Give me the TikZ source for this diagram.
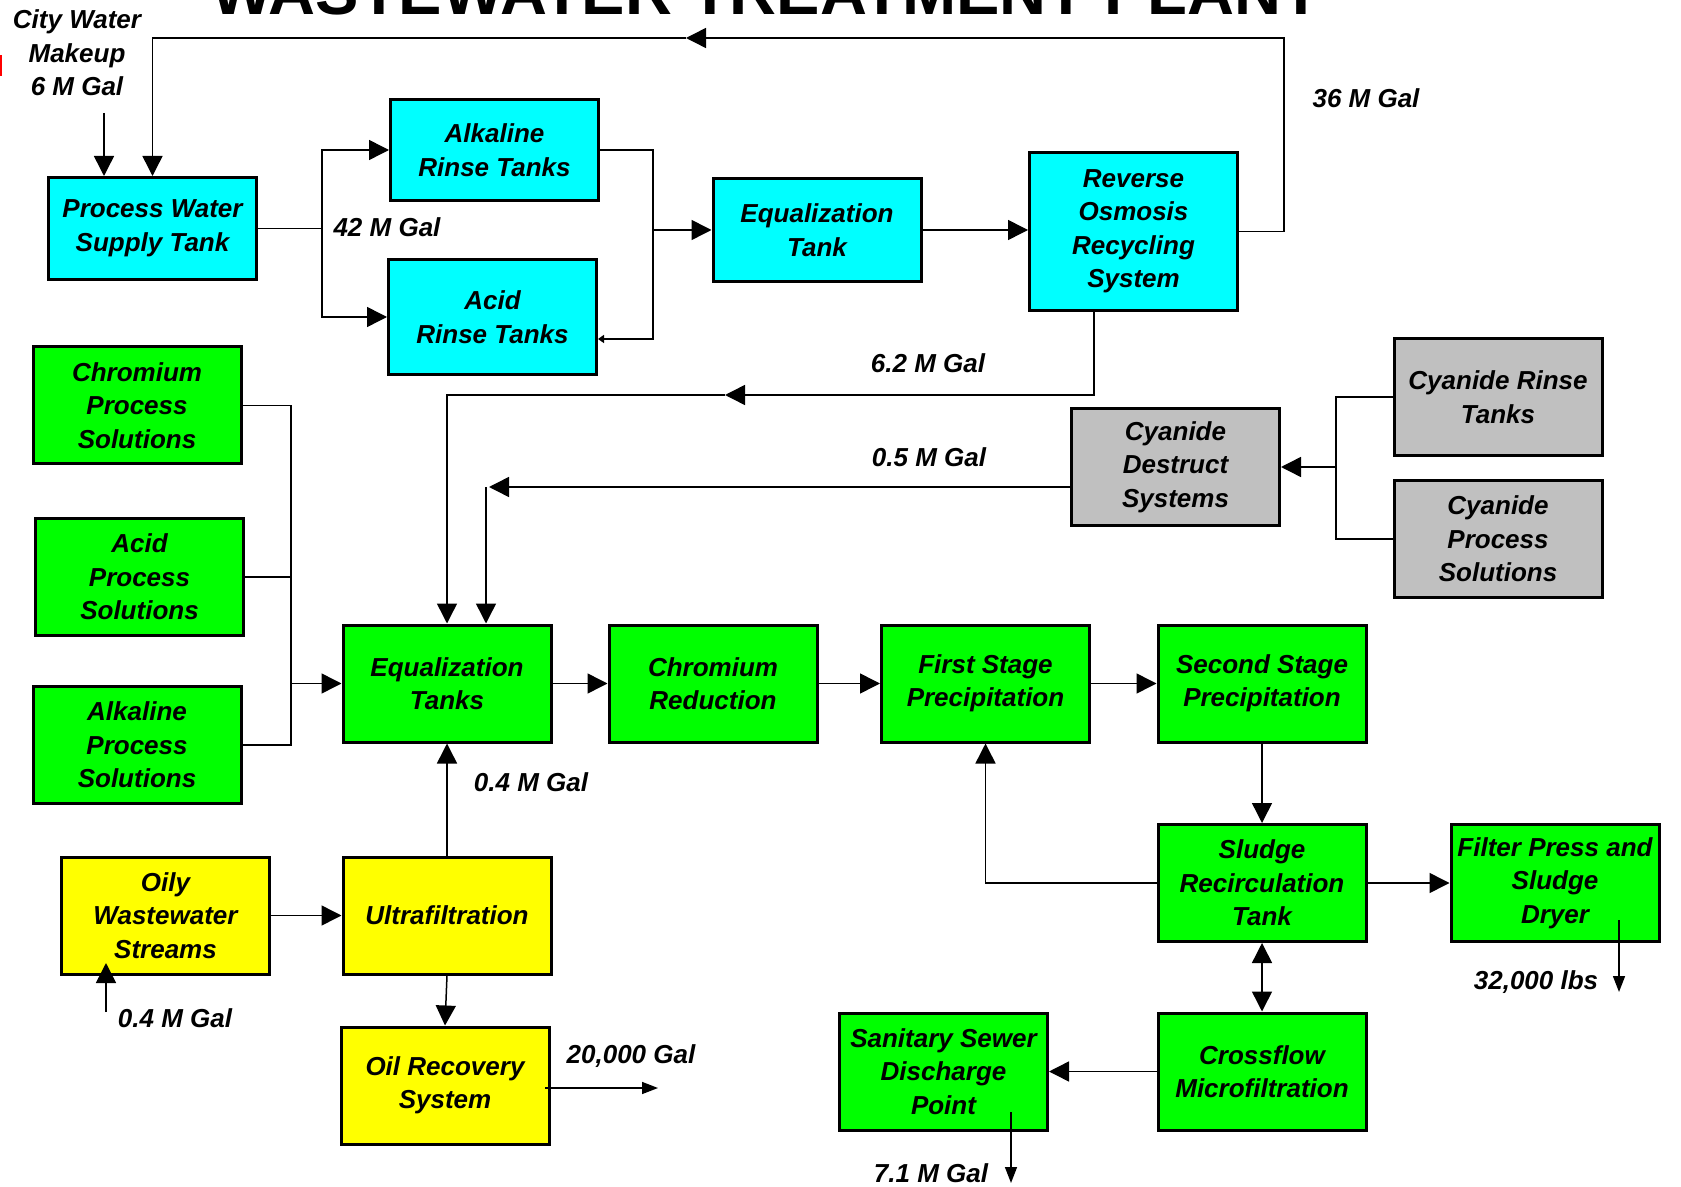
\documentclass[tikz,border=0pt]{standalone}
\usepackage{fontspec}
\setmainfont{Liberation Sans}
\usetikzlibrary{arrows.meta, positioning}
\definecolor{rinsecyan}{RGB}{0,255,255}
\definecolor{treatgreen}{RGB}{0,255,0}
\definecolor{oilyellow}{RGB}{255,255,0}
\definecolor{cyanidegray}{RGB}{192,192,192}
\newcommand{\unitfont}{\fontsize{13}{16.75}\selectfont\bfseries\itshape}
\newcommand{\titlefont}{\fontsize{32.5}{36}\selectfont\bfseries}
\tikzset{
  tankbox/.style   = {rectangle, draw=black, line width=1.5pt,
                      minimum width=104pt, minimum height=58.5pt,
                      inner sep=1pt, align=center, font=\unitfont},
  rinse/.style     = {tankbox, fill=rinsecyan},
  treat/.style     = {tankbox, fill=treatgreen},
  oil/.style       = {tankbox, fill=oilyellow},
  cyanide/.style   = {tankbox, fill=cyanidegray},
  pipe/.style      = {line width=0.75pt},
  arrow/.style     = {pipe, -{Triangle[length=10pt, width=10pt]}},
  twoway/.style    = {pipe, {Triangle[length=10pt, width=10pt]}-{Triangle[length=10pt, width=10pt]}},
  outlet/.style    = {pipe, -{Triangle[length=8pt, width=6pt]}},
  tinyarrow/.style = {pipe, -{Triangle[length=3pt, width=4pt]}},
  flowlabel/.style = {font=\unitfont, inner sep=0pt, align=center},
}

\begin{document}
\begin{tikzpicture}[x=0.5pt, y=-0.5pt]

    \useasboundingbox (0,0) rectangle (1681,1187);
    \fill[white] (0,0) rectangle (1681,1187);
    \fill[red] (0,55) rectangle (2,76);

    \node[font=\titlefont, anchor=base] (title) at (766,15)
      {WASTEWATER TREATMENT PLANT};

    % reuse water loop
    \node[rinse, minimum height=51pt] (supply) at (152.5,228.5)
      {Process Water\\Supply Tank};
    \node[rinse, minimum height=50.5pt] (alkrinse) at (494.5,150)
      {Alkaline\\Rinse Tanks};
    \node[rinse, minimum height=57.5pt] (acidrinse) at (492.5,317)
      {Acid\\Rinse Tanks};
    \node[rinse, minimum height=51.5pt] (eqtank) at (817,230)
      {Equalization\\Tank};
    \node[rinse, minimum height=79pt] (ro) at (1133.5,231.5)
      {Reverse\\Osmosis\\Recycling\\System};

    % cyanide line
    \node[cyanide] (cds) at (1175.5,467)
      {Cyanide\\Destruct\\Systems};
    \node[cyanide] (cnrinse) at (1498,397)
      {Cyanide Rinse\\Tanks};
    \node[cyanide] (cnproc) at (1498,539)
      {Cyanide\\Process\\Solutions};

    % metal finishing solutions and treatment
    \node[treat] (crproc) at (137,405.5)
      {Chromium\\Process\\Solutions};
    \node[treat] (acproc) at (139.5,577)
      {Acid\\Process\\Solutions};
    \node[treat] (alproc) at (137,745)
      {Alkaline\\Process\\Solutions};
    \node[treat] (eqtanks) at (447,683.5)
      {Equalization\\Tanks};
    \node[treat] (crred) at (713,683.5)
      {Chromium\\Reduction};
    \node[treat] (first) at (985.5,683.5)
      {First Stage\\Precipitation};
    \node[treat] (second) at (1262,683.5)
      {Second Stage\\Precipitation};
    \node[treat] (sludge) at (1262,883)
      {Sludge\\Recirculation\\Tank};
    \node[treat] (filter) at (1555,883)
      {Filter Press and\\Sludge\\Dryer};
    \node[treat] (crossflow) at (1262,1071.5)
      {Crossflow\\Microfiltration};
    \node[treat] (sanitary) at (943.5,1071.5)
      {Sanitary Sewer\\Discharge\\Point};

    % oily streams
    \node[oil] (oily) at (165.5,915.5)
      {Oily\\Wastewater\\Streams};
    \node[oil] (ultra) at (447,915.5)
      {Ultrafiltration};
    \node[oil] (oilrec) at (445,1085.5)
      {Oil Recovery\\System};

    % flow labels
    \node[flowlabel] (citywater) at (77,53)  {City Water\\Makeup\\6 M Gal};
    \node[flowlabel] (lbl36)   at (1366,98)  {36 M Gal};
    \node[flowlabel] (lbl42)   at (387,227)  {42 M Gal};
    \node[flowlabel] (lbl62)   at (928,363)  {6.2 M Gal};
    \node[flowlabel] (lbl05)   at (929,457)  {0.5 M Gal};
    \node[flowlabel] (lbl04up) at (531,782)  {0.4 M Gal};
    \node[flowlabel] (lbl04in) at (175,1018) {0.4 M Gal};
    \node[flowlabel] (lbl20k)  at (631,1056) {20,000 Gal};
    \node[flowlabel] (lbl32k)  at (1536,982) {32,000 lbs};
    \node[flowlabel] (lbl71)   at (931,1173) {7.1 M Gal};

    \coordinate (cwin)     at (104,113);
    \coordinate (rtop)     at (1284,38);
    \coordinate (rmid)     at (686,38);
    \coordinate (split)    at (322,228.5);
    \coordinate (merge)    at (653,230);
    \coordinate (acidout)  at (653,339);
    \coordinate (rodrop)   at (1094,395);
    \coordinate (romid)    at (725,395);
    \coordinate (cncorner) at (486,487);
    \coordinate (cnjoin)   at (1336,467);
    \coordinate (spjoin)   at (291,683.5);
    \coordinate (oilyin)   at (106,1012);
    \coordinate (oilytip)  at (106,963);
    \coordinate (oilsrc)   at (545,1088);
    \coordinate (oilout)   at (658,1088);
    \coordinate (cakesrc)  at (1619,920);
    \coordinate (cakeout)  at (1619,992);
    \coordinate (sewersrc) at (1011,1112);
    \coordinate (sewerout) at (1011,1183);

    \draw[arrow] (cwin) -- (cwin |- supply.north);
    \draw[arrow] (ro.east) -| (rtop) -- (rmid);
    \draw[arrow] (rmid) -| (supply.north);
    \draw[pipe]  (supply.east) -- (split);
    \draw[arrow] (split) |- (alkrinse.west);
    \draw[arrow] (split) |- (acidrinse.west);
    \draw[pipe]  (alkrinse.east) -| (merge);
    \draw[tinyarrow] (merge) -- (acidout) -- (acidout -| acidrinse.east);
    \draw[arrow] (merge) -- (merge -| eqtank.west);
    \draw[arrow] (eqtank.east) -- (eqtank.east -| ro.west);

    \draw[arrow] (rodrop |- ro.south) -- (rodrop) -- (romid);
    \draw[arrow] (romid) -| (eqtanks.north);
    \draw[arrow] (cds.west |- cncorner) -- ([xshift=1.5pt]cncorner);
    \draw[arrow] (cncorner) -- (cncorner |- eqtanks.north);
    \draw[pipe]  (cnrinse.west) -| (cnjoin);
    \draw[pipe]  (cnproc.west) -| (cnjoin);
    \draw[arrow] (cnjoin) -- (cds.east);

    \draw[pipe]  (crproc.east) -| (spjoin);
    \draw[pipe]  (acproc.east) -| (spjoin);
    \draw[pipe]  (alproc.east) -| (spjoin);
    \draw[arrow] (spjoin) -- (eqtanks.west);
    \draw[arrow] (eqtanks) -- (crred);
    \draw[arrow] (crred)   -- (first);
    \draw[arrow] (first)   -- (second);
    \draw[arrow] (second)  -- (sludge);
    \draw[arrow] (sludge.west) -| (first.south);
    \draw[arrow] (sludge)  -- (filter);
    \draw[twoway] (sludge) -- (crossflow);
    \draw[arrow] (crossflow) -- (sanitary);
    \draw[outlet] (cakesrc)  -- (cakeout);
    \draw[outlet] (sewersrc) -- (sewerout);

    \draw[arrow] (oilyin) -- (oilytip);
    \draw[arrow] (oily)  -- (ultra);
    \draw[arrow] (ultra) -- (eqtanks);
    \draw[arrow] (ultra.south) -- (oilrec.north);
    \draw[outlet] (oilsrc) -- (oilout);

  \end{tikzpicture}
\end{document}
